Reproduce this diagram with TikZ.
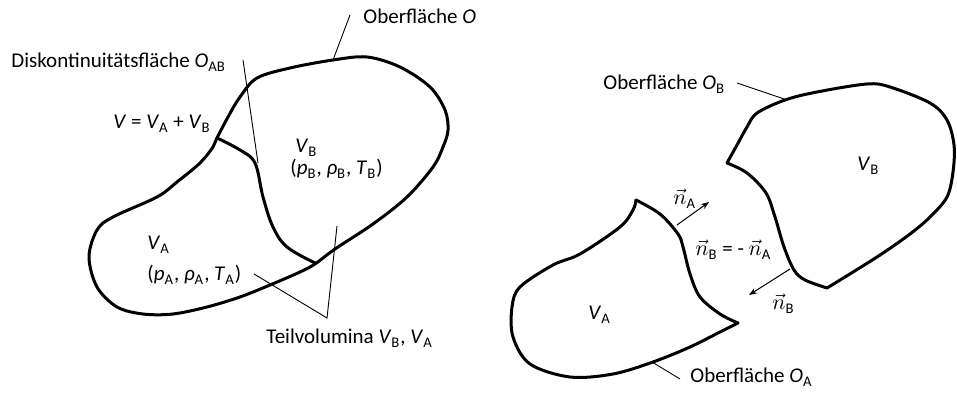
\documentclass[tikz,border=0pt]{standalone}
\usepackage{fontspec}
\setmainfont{Carlito}
\usepackage{tikz}
\usetikzlibrary{arrows.meta}

\newcommand{\ivar}[2]{\textit{#1}\textsubscript{#2}}

\begin{document}
\begin{tikzpicture}[x=0.5pt,y=-0.5pt,
rand/.style={line width=1.5pt,line join=round,line cap=round},
leader/.style={line width=0.45pt},
normal/.style={-{Stealth[length=4pt,width=3pt]},line width=0.5pt},
lbl/.style={inner sep=0pt,anchor=base west,font=\fontsize{10.5}{12}\selectfont}]
\useasboundingbox (0,0) rectangle (957,394);

% gesamtes Volumen mit Trennflaeche
\draw[rand] plot[smooth cycle,tension=0.55] coordinates {(217,138) (228,117) (240,97)
 (257,78) (290,68) (333,60) (367,57) (400,67) (430,87) (445,110) (448,130) (443,147)
 (433,167) (407,197) (373,224) (335,249) (315,264) (300,272) (270,285) (240,297)
 (207,307) (173,314) (143,314) (117,307) (97,287) (89,257) (97,230) (113,217)
 (157,197) (177,182) (200,163) (213,147)};
\draw[rand] plot[smooth,tension=0.6] coordinates {(217,138) (240,150) (255,163)
 (263,197) (273,227) (287,247) (315,263)};

\node[lbl] (oben) at (363,24) {Oberfläche \textit{O}};
\node[lbl] (disk) at (11,68) {Diskontinuitätsfläche \ivar{O}{AB}};
\node[lbl] (vges) at (113,129) {\textit{V} = \ivar{V}{A} + \ivar{V}{B}};
\node[lbl] (vb) at (295,153) {\ivar{V}{B}};
\node[lbl] (zb) at (290,175) {(\ivar{p}{B}, \ivar{ρ}{B}, \ivar{T}{B})};
\node[lbl] (va) at (147,250) {\ivar{V}{A}};
\node[lbl] (za) at (147,281) {(\ivar{p}{A}, \ivar{ρ}{A}, \ivar{T}{A})};
\node[lbl] (teil) at (266,344) {Teilvolumina \ivar{V}{B}, \ivar{V}{A}};

\coordinate (o1) at (350,15); \coordinate (o2) at (333,60);
\coordinate (d1) at (243,60); \coordinate (d2) at (258,163);
\coordinate (t1) at (254,274); \coordinate (t2) at (327,318); \coordinate (t3) at (337,226);
\draw[leader] (o1) -- (o2);
\draw[leader] (d1) -- (d2);
\draw[leader] (t1) -- (t2) -- (t3);

% getrennte Teilvolumina
\draw[rand] plot[smooth,tension=0.55] coordinates {(727,163) (737,145) (747,127)
 (757,113) (785,100) (817,92) (867,84) (890,87) (930,103) (947,120) (954,145)
 (953,172) (947,197) (930,217) (910,234) (877,257) (827,288)};
\draw[rand] plot[smooth,tension=0.55] coordinates {(827,288) (805,280) (794,270)
 (784,247) (775,217) (766,193) (747,173) (727,163)};
\draw[rand] plot[smooth,tension=0.55] coordinates {(636,200) (633,210) (620,227)
 (580,254) (553,265) (520,287) (512,307) (513,337) (530,364) (570,377) (613,374)
 (653,362) (690,347) (720,332) (738,323)};
\draw[rand] plot[smooth,tension=0.55] coordinates {(738,323) (720,314) (700,297)
 (690,274) (683,247) (678,234) (660,214) (636,200)};

\node[lbl] (obenb) at (603,90) {Oberfläche \ivar{O}{B}};
\node[lbl] (obena) at (690,383) {Oberfläche \ivar{O}{A}};
\node[lbl] (vbr) at (857,171) {\ivar{V}{B}};
\node[lbl] (var) at (588,320) {\ivar{V}{A}};
\node[lbl] (na) at (673,205) {$\vec{n}_{\mathrm{A}}$};
\node[lbl] (nbna) at (695,256) {$\vec{n}_{\mathrm{B}}$ = - $\vec{n}_{\mathrm{A}}$};
\node[lbl] (nb) at (772,310) {$\vec{n}_{\mathrm{B}}$};

\coordinate (ob1) at (737,83); \coordinate (ob2) at (787,100);
\coordinate (oa1) at (652,362); \coordinate (oa2) at (680,379);
\coordinate (nafuss) at (677,225); \coordinate (naspitze) at (709,202);
\coordinate (nbfuss) at (790,269); \coordinate (nbspitze) at (749,295);
\draw[leader] (ob1) -- (ob2);
\draw[leader] (oa1) -- (oa2);
\draw[normal] (nafuss) -- (naspitze);
\draw[normal] (nbfuss) -- (nbspitze);
\end{tikzpicture}
\end{document}
